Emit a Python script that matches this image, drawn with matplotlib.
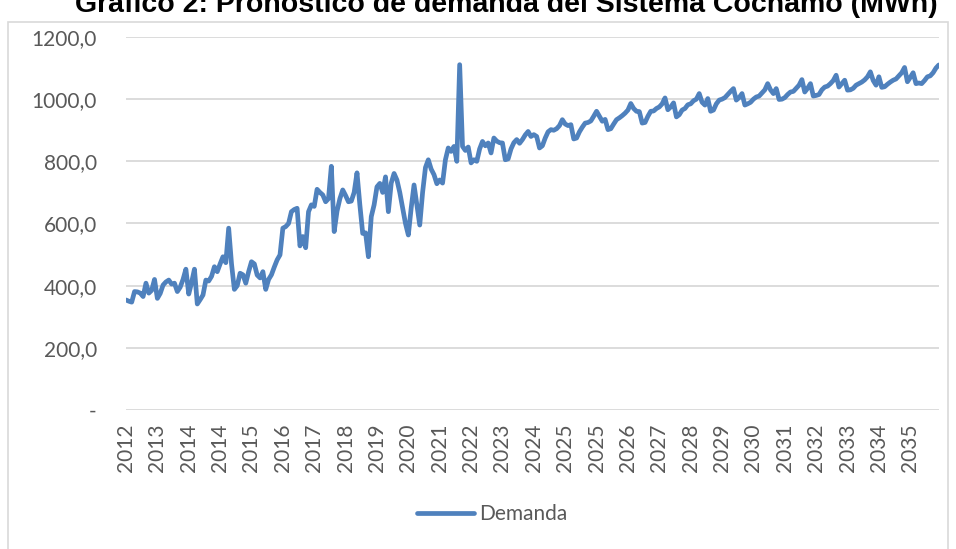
import matplotlib
matplotlib.use("Agg")
import matplotlib.pyplot as plt
from matplotlib.patches import Rectangle

# monthly demand
demanda = [
    354, 350, 347, 381, 380, 376, 365, 408, 376, 385, 420,
    359, 375, 402, 412, 418, 405, 408, 381, 395, 420, 453,
    373, 410, 453, 341, 355, 370, 418, 415, 430, 461, 445,
    470, 493, 474, 585, 470, 388, 400, 440, 435, 408, 445,
    477, 470, 434, 425, 445, 388, 420, 435, 460, 483, 499,
    585, 590, 600, 638, 645, 649, 528, 558, 522, 638, 660,
    655, 710, 700, 692, 670, 680, 784, 574, 640, 680, 708,
    690, 670, 672, 700, 763, 660, 568, 570, 493, 622, 660,
    718, 729, 700, 750, 638, 730, 761, 740, 700, 650, 600,
    563, 650, 724, 660, 595, 700, 780, 805, 775, 757, 728,
    740, 730, 805, 843, 832, 848, 800, 1111, 848, 835, 846,
    795, 805, 800, 840, 864, 850, 859, 827, 875, 865, 860,
    859, 805, 808, 840, 860, 870, 858, 870, 885, 896, 880,
    886, 880, 843, 850, 875, 895, 902, 900, 905, 915, 934,
    920, 915, 918, 872, 875, 895, 910, 923, 925, 930, 945,
    961, 945, 929, 935, 902, 905, 920, 934, 940, 947, 955,
    965, 986, 970, 961, 960, 923, 925, 945, 961, 962, 970,
    975, 985, 1004, 966, 975, 988, 943, 950, 965, 970, 982,
    985, 995, 1000, 1018, 990, 981, 1002, 961, 965, 985, 997,
    1000, 1005, 1015, 1025, 1034, 997, 1005, 1018, 981, 985, 990,
    1000, 1007, 1010, 1020, 1030, 1050, 1030, 1018, 1034, 999, 1000,
    1005, 1015, 1023, 1025, 1035, 1045, 1063, 1023, 1035, 1050, 1010,
    1012, 1015, 1030, 1039, 1042, 1050, 1060, 1077, 1039, 1050, 1061,
    1029, 1030, 1035, 1045, 1050, 1055, 1062, 1072, 1088, 1060, 1045,
    1072, 1038, 1040, 1048, 1055, 1061, 1065, 1075, 1085, 1102, 1056,
    1070, 1085, 1050, 1052, 1050, 1060, 1072, 1075, 1085, 1100, 1110,
]

# category labels shown every 11 months
etiquetas = ["2012", "2013", "2014", "2014", "2015", "2016", "2017", "2018",
             "2019", "2020", "2021", "2022", "2023", "2024", "2025", "2025",
             "2026", "2027", "2028", "2029", "2030", "2031", "2032", "2033",
             "2034", "2035"]

y_ticks = [0, 200, 400, 600, 800, 1000, 1200]
y_labels = ["-", "200,0", "400,0", "600,0", "800,0", "1000,0", "1200,0"]

plt.rcParams["font.family"] = ["Lato", "DejaVu Sans"]

fig = plt.figure(figsize=(9.56, 5.49), dpi=100)
ax = fig.add_axes([0.1318, 0.2532, 0.982 - 0.1318, 0.9326 - 0.2532])

# chart border
fig.patches.append(Rectangle((8 / 956, -0.05), 940 / 956, 1.05 - 22 / 549,
                             transform=fig.transFigure, fill=False,
                             edgecolor="#d9d9d9", linewidth=1.2))

fig.text(0.53, 1 - 12 / 549, "Gráfico 2: Pronóstico de demanda del Sistema Cochamó (MWh)",
         ha="center", va="baseline", fontsize=20.5, fontweight="bold",
         family=["Liberation Sans", "DejaVu Sans"])

x = list(range(len(demanda)))
ax.plot(x, demanda, color="#4F81BD", linewidth=3.4, solid_capstyle="round",
        solid_joinstyle="round", label="Demanda")

ax.set_xlim(0, len(demanda) - 1)
ax.set_ylim(0, 1200)
ax.set_yticks(y_ticks)
ax.set_yticklabels(y_labels)
ax.set_xticks([i * 11 for i in range(len(etiquetas))])
ax.set_xticklabels(etiquetas, rotation=90)

ax.grid(axis="y", color="#d9d9d9", linewidth=1.3)
ax.set_axisbelow(True)
for s in ax.spines.values():
    s.set_visible(False)
ax.tick_params(axis="both", length=0, labelcolor="#595959", labelsize=15)
ax.tick_params(axis="y", pad=21)
ax.tick_params(axis="x", pad=10)

leg = fig.legend(loc="center", bbox_to_anchor=(0.515, 1 - 514 / 549), frameon=False,
                 fontsize=15, handlelength=2.75, handletextpad=0.25)
for t in leg.get_texts():
    t.set_color("#595959")

fig.savefig("out.png", dpi=100)
